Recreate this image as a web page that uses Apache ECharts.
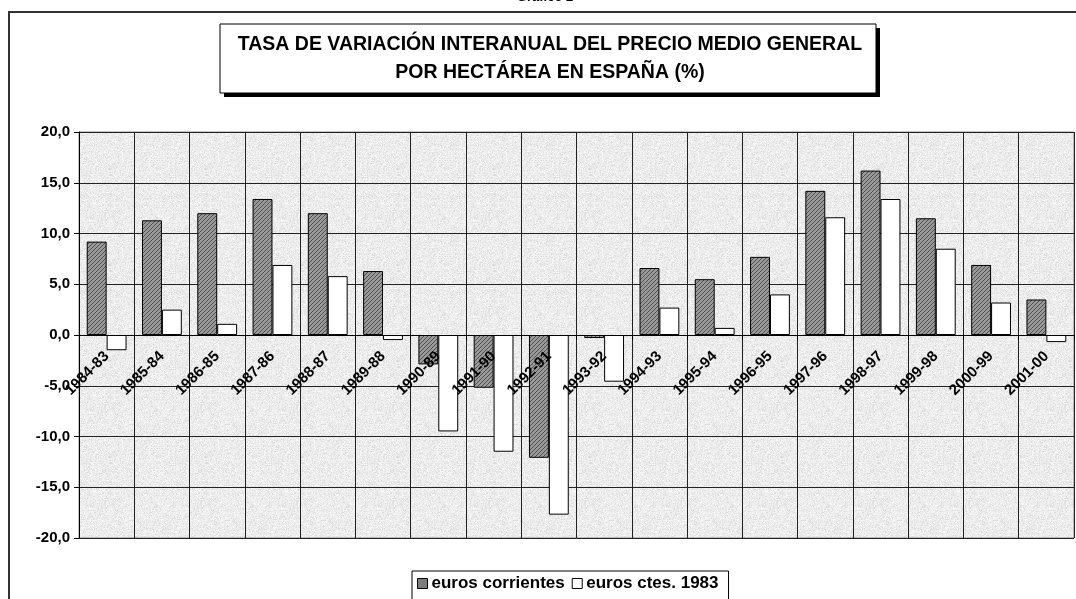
<!DOCTYPE html>
<html>
<head>
<meta charset="utf-8">
<script src="https://cdn.jsdelivr.net/npm/echarts@6/dist/echarts.min.js"></script>
<style>
  html, body { margin: 0; padding: 0; background: #fff; }
  #chart { width: 1076px; height: 599px; }
</style>
</head>
<body>
<div id="chart"></div>
<script>
// datos
const categorias = ['1984-83', '1985-84', '1986-85', '1987-86', '1988-87', '1989-88', '1990-89', '1991-90', '1992-91',
  '1993-92', '1994-93', '1995-94', '1996-95', '1997-96', '1998-97', '1999-98', '2000-99', '2001-00']
const eurosCorrientes = [9.2, 11.3, 12.0, 13.4, 12.0, 6.3, -2.9, -5.2, -12.1, -0.3, 6.6, 5.5, 7.7, 14.2, 16.2, 11.5, 6.9, 3.5]
const eurosCtes1983 = [-1.5, 2.5, 1.1, 6.9, 5.8, -0.5, -9.5, -11.5, -17.7, -4.6, 2.7, 0.7, 4.0, 11.6, 13.4, 8.5, 3.2, -0.7]
const nombresSeries = ['euros corrientes', 'euros ctes. 1983']

const FONT = '"Liberation Sans", Arial, sans-serif'

// textura tipo granito (fondo del area de trazado)
const makeGranite = () => {
  const c = document.createElement('canvas')
  c.width = 96; c.height = 96
  const ctx = c.getContext('2d')
  const img = ctx.createImageData(96, 96)
  let seed = 12345
  for (let i = 0; i < 96 * 96; i++) {
    seed = (seed * 1103515245 + 12345) & 0x7fffffff
    const r = (seed >> 8) % 100
    let g = 238
    if (r < 12) g = 220
    else if (r < 35) g = 230
    else if (r > 80) g = 247
    img.data[i * 4] = g; img.data[i * 4 + 1] = g; img.data[i * 4 + 2] = g; img.data[i * 4 + 3] = 255
  }
  ctx.putImageData(img, 0, 0)
  return c
}

// rayado de las barras oscuras
const makeHatch = () => {
  const c = document.createElement('canvas')
  c.width = 4; c.height = 4
  const ctx = c.getContext('2d')
  ctx.fillStyle = '#9a9a9a'
  ctx.fillRect(0, 0, 4, 4)
  ctx.fillStyle = '#4e4e4e'
  for (let i = 0; i < 4; i++) ctx.fillRect(i, 3 - i, 1, 1)
  return c
}

const hatch = { image: makeHatch(), repeat: 'repeat' }
const granite = { image: makeGranite(), repeat: 'repeat' }

const myChart = echarts.init(document.getElementById('chart'))

const option = {
  animation: false,
  backgroundColor: '#fff',
  textStyle: { fontFamily: FONT },
  grid: {
    left: 79, right: 2, top: 132, bottom: 61,
    show: true,
    backgroundColor: granite,
    borderColor: '#888',
    borderWidth: 1
  },
  legend: {
    top: 571,
    left: 412,
    itemWidth: 10,
    itemHeight: 10,
    itemGap: 7,
    padding: [4, 10, 12, 5],
    borderColor: '#000',
    borderWidth: 1,
    borderRadius: 0,
    icon: 'rect',
    textStyle: { fontFamily: FONT, fontWeight: 'bold', fontSize: 17, color: '#000', padding: [0, 0, 0, -1] },
    data: [
      { name: nombresSeries[0], itemStyle: { color: '#7d7d7d', borderColor: '#000', borderWidth: 1 } },
      { name: nombresSeries[1], itemStyle: { color: '#fff', borderColor: '#000', borderWidth: 1 } }
    ]
  },
  xAxis: [
    {
      // rejilla vertical, detras de las barras
      type: 'category',
      data: categorias,
      axisLine: { show: false },
      axisTick: { show: false },
      axisLabel: { show: false },
      splitLine: { show: true, interval: 0, lineStyle: { color: '#222', width: 1 } }
    },
    {
      // eje en el cero con etiquetas por encima de las barras
      type: 'category',
      data: categorias,
      position: 'bottom',
      offset: -203,
      z: 5,
      axisLine: { onZero: false, lineStyle: { color: '#000', width: 1 } },
      axisTick: { show: true, interval: 0, length: 5, lineStyle: { color: '#000' } },
      axisLabel: {
        interval: 0,
        rotate: 45,
        margin: 19,
        fontFamily: FONT,
        fontWeight: 'bold',
        fontSize: 15,
        color: '#000'
      },
      splitLine: { show: false }
    }
  ],
  yAxis: {
    type: 'value',
    min: -20,
    max: 20,
    interval: 5,
    axisLine: { show: true, lineStyle: { color: '#000' } },
    axisTick: { show: true, length: 5, lineStyle: { color: '#000' } },
    axisLabel: {
      margin: 9,
      fontFamily: FONT,
      fontWeight: 'bold',
      fontSize: 15,
      color: '#000',
      formatter: v => v.toFixed(1).replace('.', ',')
    },
    splitLine: { show: true, lineStyle: { color: '#222', width: 1 } }
  },
  series: [
    {
      name: nombresSeries[0],
      type: 'bar',
      xAxisIndex: 0,
      data: eurosCorrientes,
      barGap: '0%',
      barCategoryGap: '28%',
      itemStyle: { color: hatch, borderColor: '#000', borderWidth: 1 }
    },
    {
      name: nombresSeries[1],
      type: 'bar',
      xAxisIndex: 0,
      data: eurosCtes1983,
      itemStyle: { color: '#fff', borderColor: '#000', borderWidth: 1 }
    }
  ],
  graphic: [
    // marco exterior
    { type: 'rect', shape: { x: 9, y: 12, width: 1080, height: 600 }, style: { fill: 'none', stroke: '#333', lineWidth: 2 }, z: 1 },
    { type: 'text', x: 545, y: -9, style: { text: 'Gráfico 2', font: 'bold 13px ' + FONT, fill: '#000', textAlign: 'center' } },
    // caja del titulo con sombra
    { type: 'rect', shape: { x: 224, y: 28, width: 656, height: 69 }, style: { fill: '#000' }, z: 10 },
    { type: 'rect', shape: { x: 220, y: 24, width: 656, height: 69 }, style: { fill: '#fff', stroke: '#000', lineWidth: 1 }, z: 11 },
    {
      type: 'text', x: 550, y: 59, z: 12,
      style: {
        text: 'TASA DE VARIACIÓN INTERANUAL DEL PRECIO MEDIO GENERAL\nPOR HECTÁREA EN ESPAÑA (%)',
        font: 'bold 19.5px ' + FONT, fill: '#000', textAlign: 'center', textVerticalAlign: 'middle', lineHeight: 28
      }
    }
  ]
}

myChart.setOption(option)
</script>
</body>
</html>
